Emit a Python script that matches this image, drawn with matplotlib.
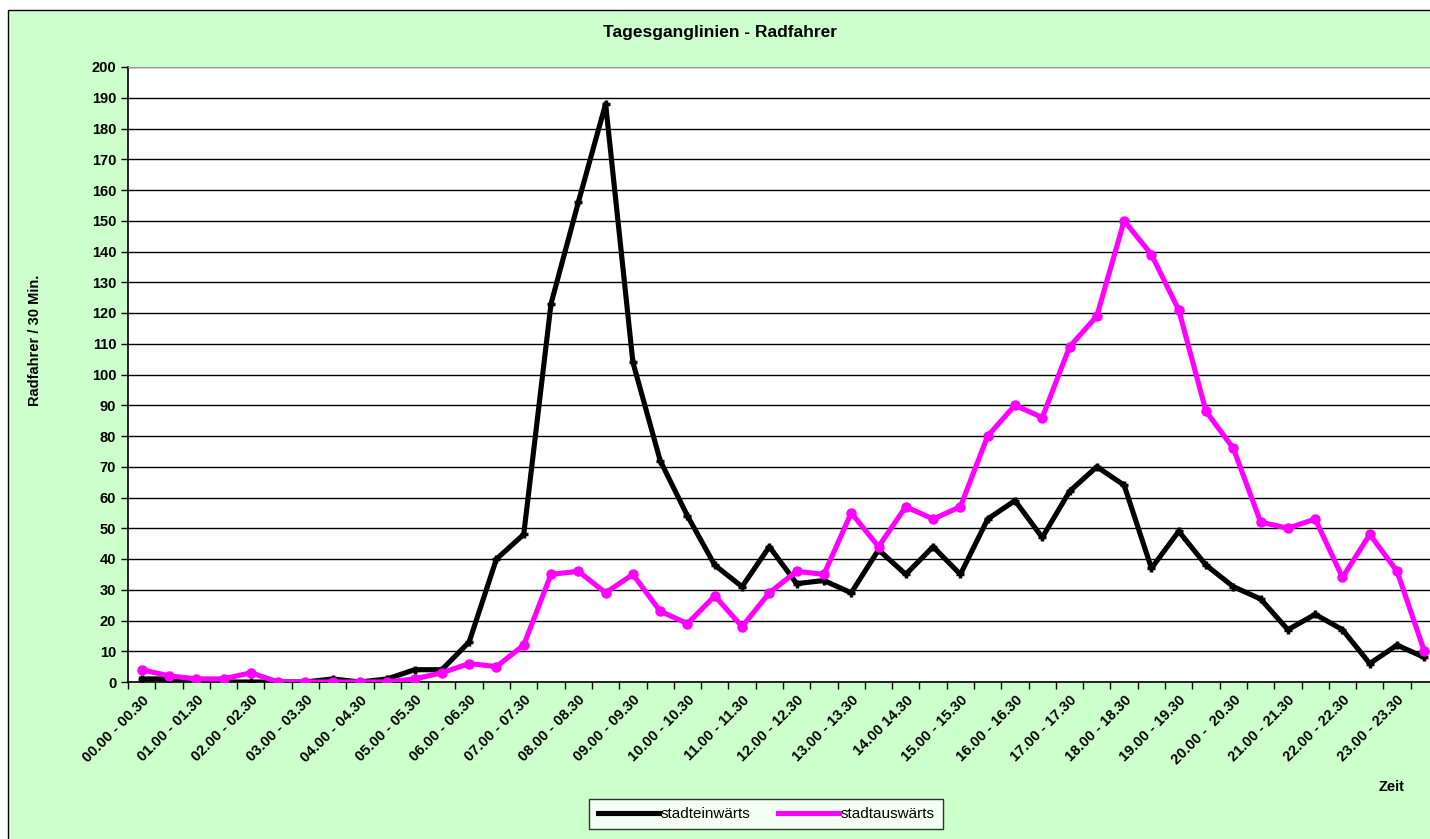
## plot.py
# Tagesganglinien - Radfahrer (half-hour counts)

import matplotlib
matplotlib.use('Agg')
import matplotlib.pyplot as plt
from matplotlib.patches import Rectangle
from matplotlib.ticker import MultipleLocator, FixedLocator

plt.rcParams['font.family'] = ['Liberation Sans', 'DejaVu Sans']

## data
hour_labels = ['00.00 - 00.30', '01.00 - 01.30', '02.00 - 02.30', '03.00 - 03.30',
               '04.00 - 04.30', '05.00 - 05.30', '06.00 - 06.30', '07.00 - 07.30',
               '08.00 - 08.30', '09.00 - 09.30', '10.00 - 10.30', '11.00 - 11.30',
               '12.00 - 12.30', '13.00 - 13.30', '14.00 14.30', '15.00 - 15.30',
               '16.00 - 16.30', '17.00 - 17.30', '18.00 - 18.30', '19.00 - 19.30',
               '20.00 -  20.30', '21.00 - 21.30', '22.00 - 22.30', '23.00 - 23.30']

stadteinwaerts = [1, 1, 0, 0, 0, 0, 0, 1, 0, 1, 4, 4,
                  13, 40, 48, 123, 156, 188, 104, 72, 54, 38, 31, 44,
                  32, 33, 29, 43, 35, 44, 35, 53, 59, 47, 62, 70,
                  64, 37, 49, 38, 31, 27, 17, 22, 17, 6, 12, 8]

stadtauswaerts = [4, 2, 1, 1, 3, 0, 0, 0, 0, 0, 1, 3,
                  6, 5, 12, 35, 36, 29, 35, 23, 19, 28, 18, 29,
                  36, 35, 55, 44, 57, 53, 57, 80, 90, 86, 109, 119,
                  150, 139, 121, 88, 76, 52, 50, 53, 34, 48, 36, 10]

W, H = 1430, 839
fig = plt.figure(figsize=(W / 100, H / 100), dpi=100, facecolor='white')

# green chart area with black frame
fig.add_artist(Rectangle((8 / W, -0.05), 1.2, (H - 10) / H + 0.05,
                         transform=fig.transFigure, facecolor='#CCFFCC',
                         edgecolor='black', linewidth=1.0, zorder=0))

ax = fig.add_axes([128 / W, (H - 682) / H, (1438 - 128) / W, (682 - 67) / H])
ax.set_facecolor('white')

x_list = range(len(stadteinwaerts))
ax.plot(x_list, stadteinwaerts, color='black', linewidth=3.7, marker='+',
        markersize=6, markeredgewidth=2.5, label='stadteinwärts', zorder=3)
ax.plot(x_list, stadtauswaerts, color='#FF00FF', linewidth=3.7, marker='o',
        markersize=6.5, label='stadtauswärts', zorder=4)

ax.set_xlim(-0.5, len(stadteinwaerts) - 0.5)
ax.set_ylim(0, 200)
ax.yaxis.set_major_locator(MultipleLocator(10))
ax.grid(axis='y', color='black', linewidth=1.0)
ax.set_axisbelow(True)

# x ticks between categories, labels every hour
ax.xaxis.set_major_locator(FixedLocator([i - 0.5 for i in range(len(stadteinwaerts) + 1)]))
ax.set_xticklabels([])
ax.xaxis.set_minor_locator(FixedLocator(range(0, len(stadteinwaerts), 2)))
ax.set_xticklabels(hour_labels, minor=True, rotation=45, ha='right',
                   rotation_mode='anchor', fontsize=10.5, fontweight='bold')
ax.tick_params(axis='x', which='minor', length=0, pad=8)
ax.tick_params(axis='x', which='major', length=5, width=1, direction='out')
ax.tick_params(axis='y', length=5, width=1, direction='out', labelsize=10.5)
for lbl in ax.get_yticklabels():
    lbl.set_fontweight('bold')

for side in ['left', 'bottom']:
    ax.spines[side].set_color('black')
    ax.spines[side].set_linewidth(1.2)
ax.spines['top'].set_color('#999999')
ax.spines['right'].set_visible(False)

fig.text(720 / W, 1 - 33 / H, 'Tagesganglinien - Radfahrer', ha='center',
         va='center', fontsize=12.5, fontweight='bold')
fig.text(35 / W, 1 - 340 / H, 'Radfahrer / 30 Min.', rotation=90, ha='center',
         va='center', fontsize=10.5, fontweight='bold')
fig.text(1392 / W, 1 - 787 / H, 'Zeit', ha='center', va='center',
         fontsize=10.5, fontweight='bold')

leg = fig.legend(loc='center', bbox_to_anchor=(766 / W, 1 - 814 / H), ncol=2,
                 frameon=True, fancybox=False, fontsize=11, handlelength=4,
                 handletextpad=0.1, columnspacing=1.8, borderpad=0.55)
leg.get_frame().set_edgecolor('black')
leg.get_frame().set_linewidth(1.0)
for h in leg.legend_handles:
    h.set_marker('')

fig.savefig('out.png', dpi=100, facecolor=fig.get_facecolor())
